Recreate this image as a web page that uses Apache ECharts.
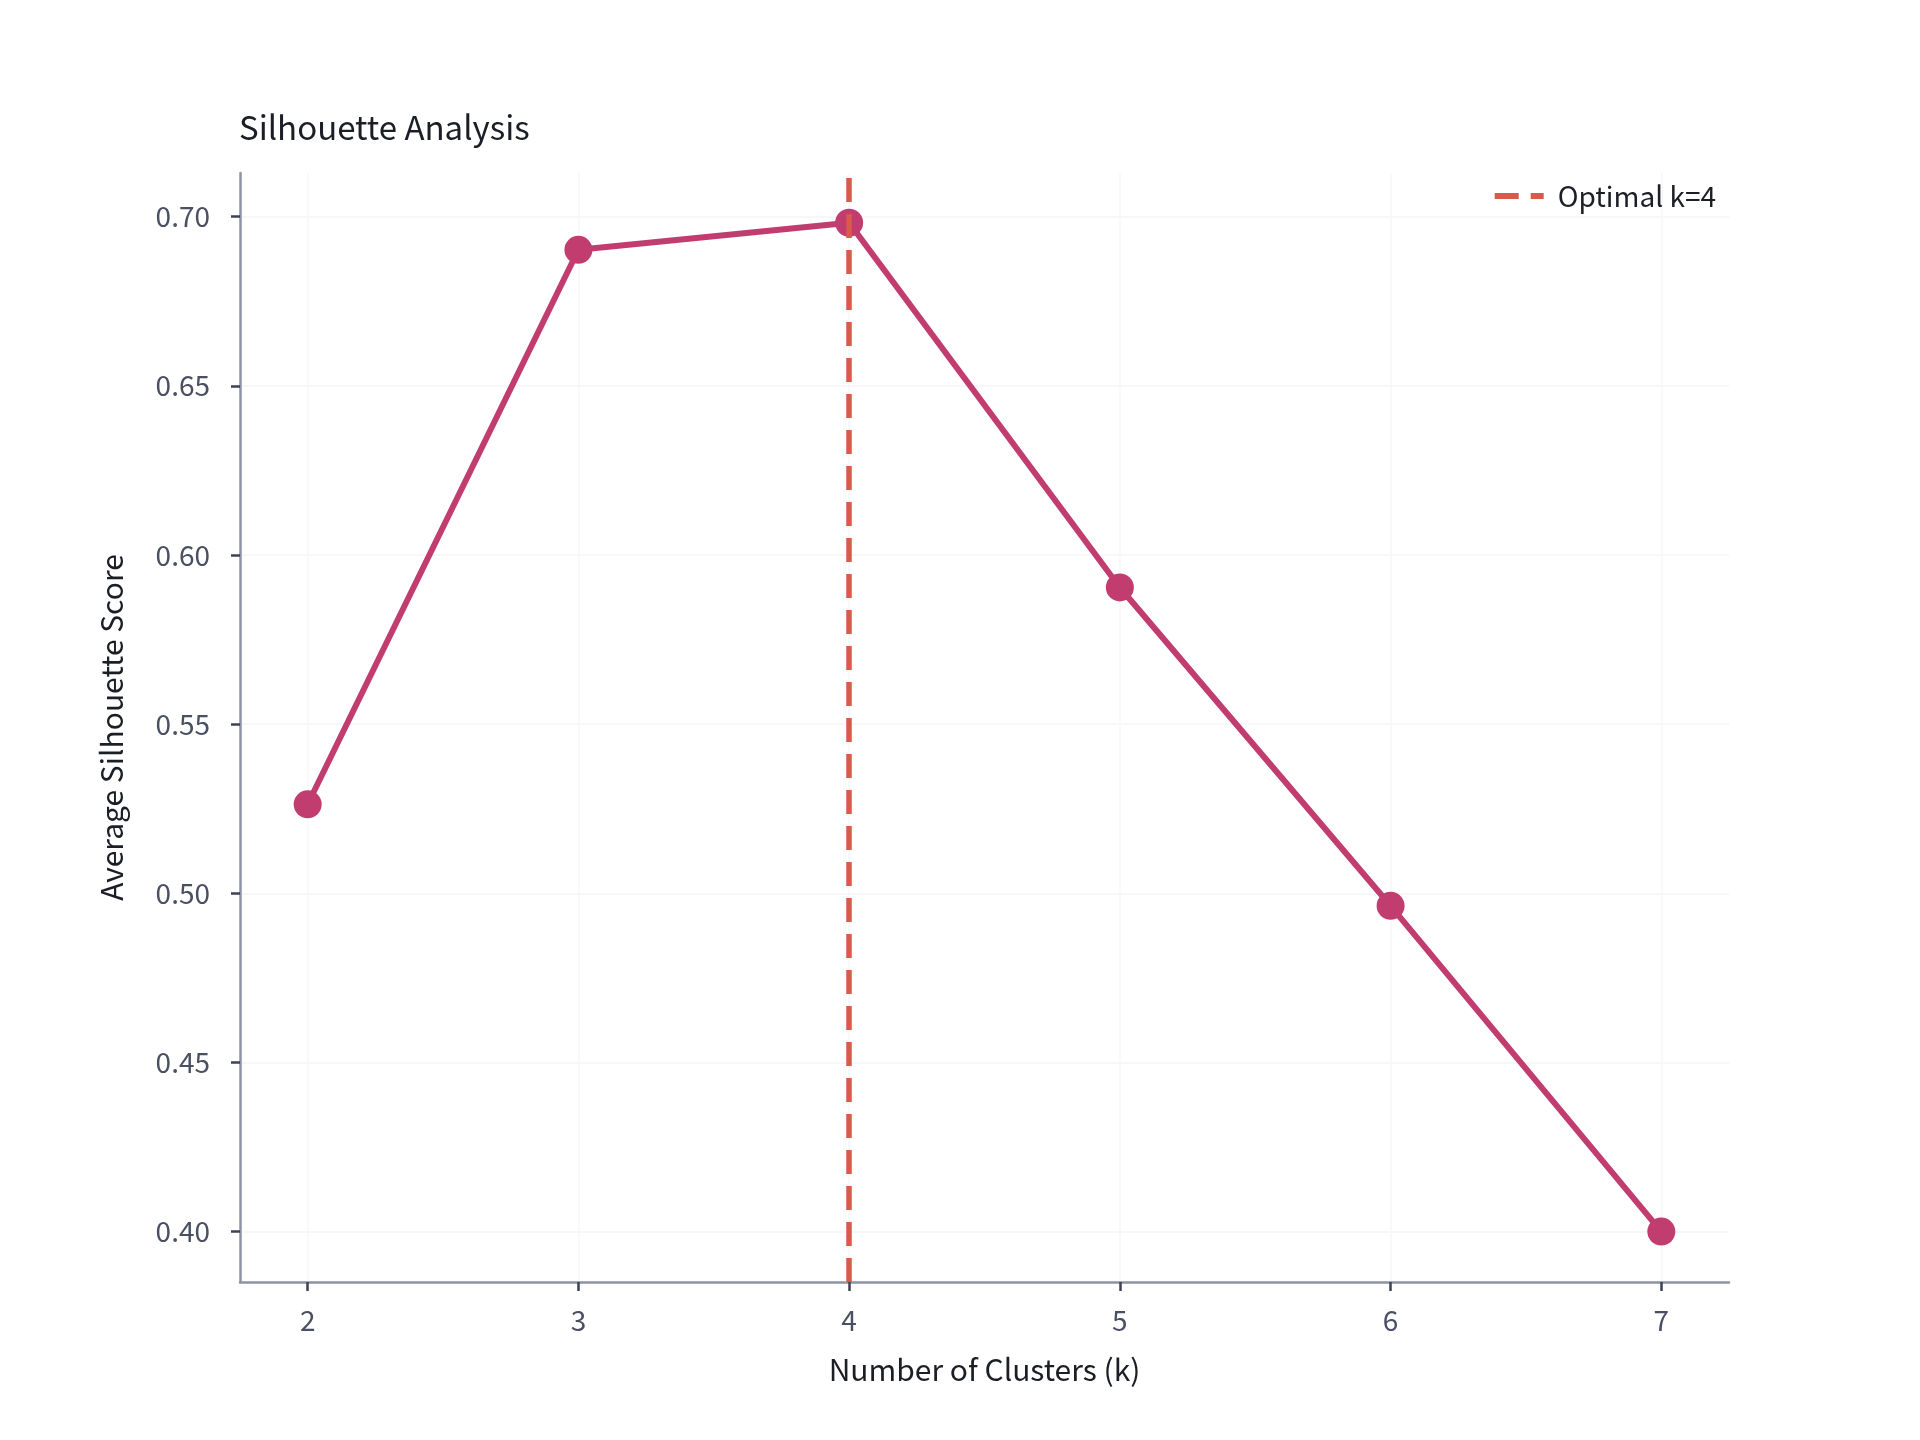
<!DOCTYPE html>
<html>
<head>
<meta charset="utf-8">
<title>Silhouette Analysis</title>
<script src="https://cdn.jsdelivr.net/npm/echarts@6/dist/echarts.min.js"></script>
<style>
  html, body { margin: 0; padding: 0; background: #ffffff; }
  #main { width: 1920px; height: 1440px; }
</style>
</head>
<body>
<div id="main"></div>
<script>
// data
var clusterCounts = [2, 3, 4, 5, 6, 7];
var silhouetteScores = [0.5263, 0.6902, 0.6982, 0.5904, 0.4963, 0.4000];
var optimalK = 4;
var xTicks = [2, 3, 4, 5, 6, 7];
var yTicks = [0.40, 0.45, 0.50, 0.55, 0.60, 0.65, 0.70];

var xMin = 1.75, xMax = 7.25;
var yMin = 0.3851, yMax = 0.7129;

var fontFamily = '"Noto Sans CJK JP", "Noto Sans", sans-serif';
var lineColor = '#c23d6f';
var optColor = '#d95a4b';

var myChart = echarts.init(document.getElementById('main'));

var scoreData = clusterCounts.map(function (k, i) {
    return [k, silhouetteScores[i]];
});

var option = {
    backgroundColor: '#ffffff',
    animation: false,
    title: {
        text: 'Silhouette Analysis',
        left: 234,
        top: 106,
        textStyle: {
            fontFamily: fontFamily,
            fontSize: 33,
            fontWeight: 'normal',
            color: '#1b1e25'
        }
    },
    legend: {
        data: ['Optimal k=4'],
        right: 199,
        top: 177,
        itemWidth: 49,
        itemHeight: 6,
        // dashed line icon
        icon: 'path://M0,0H24V6H0Z M36,0H49V6H36Z',
        itemStyle: { color: optColor, opacity: 1 },
        textStyle: {
            fontFamily: fontFamily,
            fontSize: 28,
            color: '#1b1e25',
            padding: [0, 0, 0, 9]
        }
    },
    grid: {
        left: 240,
        right: 191,
        top: 173,
        bottom: 158
    },
    xAxis: {
        type: 'value',
        min: xMin,
        max: xMax,
        name: 'Number of Clusters (k)',
        nameLocation: 'middle',
        nameGap: 73,
        nameTextStyle: {
            fontFamily: fontFamily,
            fontSize: 30,
            color: '#1b1e25'
        },
        axisLine: {
            show: true,
            lineStyle: { color: '#8e93a4', width: 2.5 }
        },
        axisTick: {
            show: true,
            customValues: xTicks,
            length: 9,
            lineStyle: { color: '#3d4354', width: 2.5 }
        },
        axisLabel: {
            customValues: xTicks,
            margin: 24,
            fontFamily: fontFamily,
            fontSize: 28,
            color: '#4a5063',
            formatter: function (v) { return String(v); }
        },
        splitLine: {
            show: true,
            lineStyle: { color: '#f6f7f9', width: 1.5 }
        }
    },
    yAxis: {
        type: 'value',
        min: yMin,
        max: yMax,
        name: 'Average Silhouette Score',
        nameLocation: 'middle',
        nameGap: 113,
        nameTextStyle: {
            fontFamily: fontFamily,
            fontSize: 30,
            color: '#1b1e25'
        },
        axisLine: {
            show: true,
            lineStyle: { color: '#8e93a4', width: 2.5 }
        },
        axisTick: {
            show: true,
            customValues: yTicks,
            length: 9,
            lineStyle: { color: '#3d4354', width: 2.5 }
        },
        axisLabel: {
            customValues: yTicks,
            margin: 30,
            fontFamily: fontFamily,
            fontSize: 28,
            color: '#4a5063',
            formatter: function (v) { return v.toFixed(2); }
        },
        splitLine: {
            show: true,
            lineStyle: { color: '#f4f5f7', width: 1.5 }
        }
    },
    series: [
        {
            name: 'Silhouette',
            type: 'line',
            data: scoreData,
            symbol: 'circle',
            symbolSize: 28,
            z: 2,
            lineStyle: { color: lineColor, width: 6 },
            itemStyle: { color: lineColor }
        },
        {
            name: 'Optimal k=4',
            type: 'scatter',
            data: [],
            z: 3,
            itemStyle: { color: optColor, opacity: 1 },
            markLine: {
                silent: true,
                symbol: ['none', 'none'],
                label: { show: false },
                lineStyle: { color: optColor, width: 5.5, type: [24, 12], opacity: 1 },
                data: [{ xAxis: optimalK }]
            }
        }
    ]
};

myChart.setOption(option);
</script>
</body>
</html>
